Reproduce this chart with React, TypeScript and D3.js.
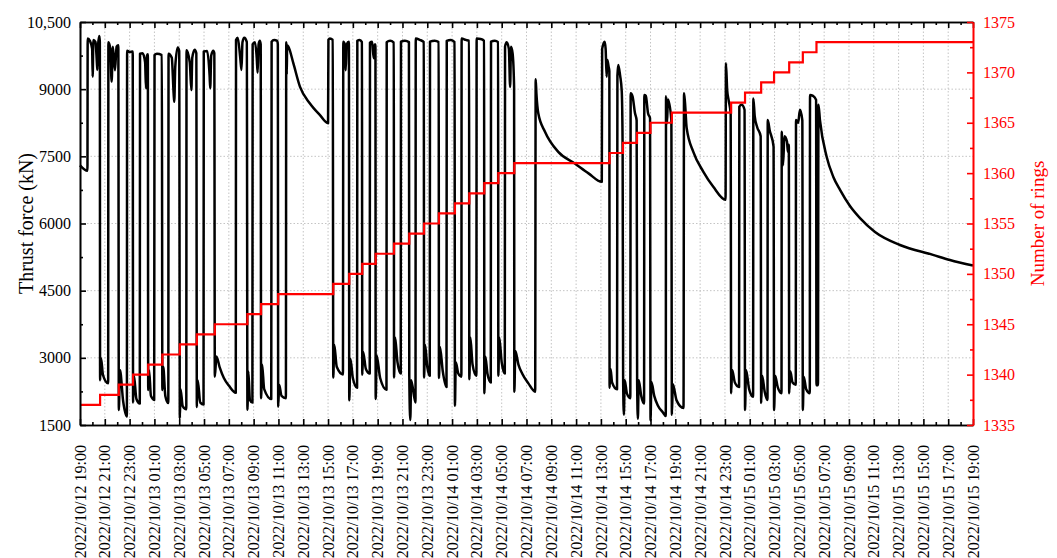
import React, { useEffect, useRef } from 'react';
import * as d3 from 'd3';

// time axis: 2022/10/12 19:00 -> 2022/10/15 19:00
const startTime = new Date(2022, 9, 12, 19, 0);
const endTime = new Date(2022, 9, 15, 19, 0);

// thrust force: [hours after 2022/10/12 19:00, kN]
const thrust: [number, number][] = [
  [0.0, 7300], [0.6, 7180],
  // ring 1337
  [0.62, 10130], [0.8, 10080], [0.98, 9900], [1.02, 9280], [1.08, 10100], [1.25, 10050], [1.36, 9600], [1.4, 9430], [1.46, 10000], [1.56, 10190], [1.6, 10050],
  [1.62, 2500], [1.7, 2990], [1.85, 2620], [2.27, 2430],
  // 1338
  [2.29, 10050], [2.45, 9900], [2.55, 9170], [2.65, 9950], [2.82, 9420], [2.95, 9950], [3.09, 9980],
  [3.13, 1835], [3.22, 2730], [3.48, 2030], [3.78, 1690],
  // 1339
  [3.8, 9860], [4.0, 9830], [4.25, 9840],
  [4.28, 2000], [4.35, 2600], [4.55, 2080], [4.82, 1980],
  // 1340
  [4.84, 9790], [5.05, 9800], [5.25, 9600], [5.32, 9020], [5.4, 9750], [5.47, 9780],
  [5.5, 2280], [5.57, 2730], [5.72, 2150], [5.98, 2060],
  // 1341
  [6.01, 9760], [6.2, 9790], [6.6, 9760],
  [6.64, 2280], [6.71, 2800], [6.88, 2150], [7.12, 1990],
  // 1342
  [7.14, 9790], [7.4, 9700], [7.55, 8900], [7.6, 8720], [7.68, 9500], [7.88, 9930], [8.0, 9850],
  [8.05, 1650], [8.11, 2300], [8.28, 1920], [8.57, 1850],
  // 1343
  [8.59, 9870], [8.85, 9600], [8.98, 8980], [9.05, 9700], [9.25, 9880], [9.38, 9800],
  [9.42, 1900], [9.49, 2500], [9.7, 2000], [9.96, 1960],
  // 1344
  [9.98, 9840], [10.25, 9850], [10.45, 9300], [10.5, 9020], [10.58, 9750], [10.75, 9860], [10.83, 9800],
  [10.87, 2580], [11.0, 3030], [11.25, 2800], [11.6, 2550], [12.0, 2380], [12.56, 2220],
  // 1345
  [12.58, 10100], [12.72, 10150], [12.92, 9700], [13.02, 9430], [13.1, 10050], [13.25, 10150], [13.45, 10050],
  [13.5, 1840], [13.57, 2700], [13.7, 2060], [13.9, 2000],
  // 1346
  [13.92, 10000], [14.1, 10050], [14.25, 9700], [14.32, 9370], [14.4, 10000], [14.5, 10080], [14.57, 10000],
  [14.6, 2100], [14.68, 2850], [14.85, 2300], [15.42, 2080],
  // 1347
  [15.45, 10060], [15.65, 10100], [15.9, 10080], [15.95, 10000],
  [15.98, 1910], [16.06, 2400], [16.25, 2150], [16.6, 2100],
  // stop
  [16.63, 10050], [16.67, 9320], [16.7, 9980], [16.8, 9950], [17.2, 9580], [17.74, 9050], [18.54, 8680], [19.35, 8420], [20.0, 8240],
  // 1348
  [20.03, 10100], [20.15, 10130], [20.38, 10100],
  [20.42, 2560], [20.5, 3290], [20.7, 2800], [21.2, 2630],
  // 1349
  [21.23, 10060], [21.35, 10000], [21.42, 9420], [21.5, 10000], [21.68, 10060],
  [21.71, 2050], [21.8, 2980], [22.0, 2550], [22.34, 2330],
  // 1350
  [22.36, 10080], [22.55, 10100], [22.73, 10050],
  [22.76, 2620], [22.83, 3130], [23.05, 2750], [23.36, 2650],
  // 1351
  [23.38, 10040], [23.55, 10060], [23.68, 9690], [23.75, 10000], [23.82, 10000],
  [23.84, 2080], [23.92, 3050], [24.2, 2550], [24.71, 2290],
  // 1352
  [24.73, 10050], [25.0, 10080], [25.3, 10040],
  [25.32, 2560], [25.4, 3460], [25.6, 2900], [25.86, 2650],
  // 1353
  [25.88, 10060], [26.2, 10080], [26.52, 10050],
  [26.55, 2580], [26.63, 1610], [26.7, 2500], [27.05, 2000],
  // 1354
  [27.07, 10130], [27.4, 10100], [27.72, 10050],
  [27.74, 2560], [27.82, 3290], [28.0, 2800], [28.2, 2600],
  // 1355
  [28.22, 10060], [28.6, 10080], [28.92, 10050],
  [28.94, 2550], [29.02, 3250], [29.25, 2700], [29.55, 2350],
  // 1356
  [29.57, 10080], [29.9, 10100], [30.2, 10050],
  [30.23, 1930], [30.3, 2900], [30.5, 2650], [30.75, 2580],
  // 1357
  [30.77, 10130], [31.1, 10100], [31.37, 10080],
  [31.39, 2520], [31.47, 3460], [31.65, 2850], [31.96, 2600],
  // 1358
  [31.98, 10130], [32.3, 10120], [32.58, 10080],
  [32.6, 2210], [32.68, 3030], [32.85, 2650], [33.12, 2450],
  // 1359
  [33.14, 10060], [33.45, 10080], [33.71, 10050],
  [33.73, 2600], [33.8, 3460], [34.0, 2900], [34.25, 2650],
  // 1360
  [34.27, 9950], [34.4, 10050], [34.58, 9900], [34.68, 9050], [34.75, 9950], [34.88, 9800], [35.0, 9050],
  [35.02, 2240], [35.1, 3150], [35.35, 2850], [35.65, 2650], [36.15, 2430], [36.7, 2245],
  // stop
  [36.74, 9220], [36.8, 8900], [36.95, 8460], [37.49, 8050], [38.56, 7600], [39.9, 7340], [41.0, 7120], [42.07, 6930],
  // 1361
  [42.1, 9900], [42.3, 10060], [42.38, 9900], [42.46, 9280], [42.52, 9650], [42.62, 9500], [42.68, 9400],
  [42.7, 2330], [42.78, 2750], [42.9, 2450], [43.3, 2300],
  // 1362
  [43.33, 9300], [43.4, 9540], [43.55, 9300], [43.68, 8950], [43.75, 7700],
  [43.79, 2580], [43.85, 1730], [43.92, 2500], [44.1, 2200], [44.37, 2100],
  // 1363
  [44.4, 8910], [44.55, 8840], [44.75, 8460], [44.88, 8300],
  [44.92, 2450], [44.98, 1640], [45.05, 2500], [45.25, 2150], [45.48, 1980],
  // 1364
  [45.5, 8870], [45.62, 8850], [45.8, 8460], [45.96, 8350],
  [46.0, 1600], [46.07, 2460], [46.3, 2150], [46.6, 1930], [47.0, 1780], [47.23, 1700],
  // 1365
  [47.25, 8840], [47.33, 8230], [47.4, 8770], [47.68, 8310],
  [47.72, 1730], [47.8, 2410], [48.1, 2050], [48.66, 1880],
  // stop
  [48.7, 8910], [48.78, 8700], [48.91, 8140], [49.45, 7600], [50.25, 7160], [51.06, 6820], [52.05, 6530],
  // 1366
  [52.08, 9580], [52.18, 8980], [52.3, 8750], [52.46, 8460],
  [52.5, 2210], [52.58, 2730], [52.8, 2450], [53.14, 2350],
  // 1367
  [53.16, 8610], [53.35, 8650], [53.58, 8540],
  [53.62, 1835], [53.7, 2730], [53.95, 2300], [54.27, 2130],
  // 1368
  [54.29, 8790], [54.4, 8400], [54.6, 8150], [54.88, 7950],
  [54.92, 1990], [55.0, 2600], [55.2, 2250], [55.43, 2060],
  // 1369
  [55.45, 8310], [55.6, 8090], [55.92, 7720],
  [55.96, 1835], [56.05, 2600], [56.25, 2350], [56.56, 2210],
  // 1370
  [56.58, 8050], [56.68, 7300], [56.8, 7950], [57.0, 7830], [57.08, 7600], [57.15, 7760],
  [57.18, 2210], [57.27, 2700], [57.45, 2450], [57.71, 2400],
  // 1371
  [57.73, 8310], [57.9, 8250], [58.05, 8540], [58.24, 8300],
  [58.28, 1835], [58.35, 2580], [58.55, 2300], [58.84, 2210],
  // 1372
  [58.86, 8870], [59.1, 8850], [59.35, 8760],
  [59.38, 2390], [59.5, 2390],
  // stop
  [59.54, 8650], [59.66, 8310], [60.2, 7490], [60.74, 7040], [61.28, 6750], [62.08, 6390], [62.89, 6120], [64.1, 5810], [66.11, 5520], [68.77, 5300], [70.14, 5185], [72.0, 5060],
];

// number of rings: [hours after 2022/10/12 19:00, ring] (step after)
const rings: [number, number][] = [
  [0, 1337], [1.62, 1338], [3.13, 1339], [4.28, 1340], [5.5, 1341], [6.64, 1342], [8.05, 1343], [9.42, 1344],
  [10.87, 1345], [13.5, 1346], [14.6, 1347], [15.98, 1348], [20.42, 1349], [21.71, 1350], [22.76, 1351],
  [23.84, 1352], [25.32, 1353], [26.55, 1354], [27.74, 1355], [28.94, 1356], [30.23, 1357], [31.39, 1358],
  [32.6, 1359], [33.73, 1360], [35.02, 1361], [42.7, 1362], [43.78, 1363], [44.91, 1364], [46.0, 1365],
  [47.72, 1366], [52.5, 1367], [53.62, 1368], [54.92, 1369], [55.96, 1370], [57.18, 1371], [58.28, 1372],
  [59.38, 1373], [72, 1373],
];

const forceTicks = [1500, 3000, 4500, 6000, 7500, 9000, 10500];
const forceLabels = ['1500', '3000', '4500', '6000', '7500', '9000', '10,500'];
const forceMinor = [2250, 3750, 5250, 6750, 8250, 9750];
const ringTicks = [1335, 1340, 1345, 1350, 1355, 1360, 1365, 1370, 1375];
const ringMinor = [1337.5, 1342.5, 1347.5, 1352.5, 1357.5, 1362.5, 1367.5, 1372.5];
const hourTicks = d3.range(0, 73, 2); // labelled ticks, every 2 h from 19:00
const hourMinor = d3.range(1, 72, 2);

const W = 1057, H = 558;
const margin = { left: 80, right: 84, top: 22, bottom: 133 };
const FONT = "'Liberation Serif', 'Times New Roman', serif";

const toDate = (h: number) => new Date(startTime.getTime() + h * 3600 * 1000);

export default function App() {
  const ref = useRef<SVGSVGElement>(null);

  useEffect(() => {
    const svg = d3.select(ref.current);
    svg.selectAll('*').remove();

    const x0 = margin.left, x1 = W - margin.right;
    const y0 = H - margin.bottom, y1 = margin.top;

    const x = d3.scaleTime().domain([startTime, endTime]).range([x0, x1]);
    const y = d3.scaleLinear().domain([1500, 10500]).range([y0, y1]);
    const y2 = d3.scaleLinear().domain([1335, 1375]).range([y0, y1]);

    const major = hourTicks.map(toDate);
    const minor = hourMinor.map(toDate);

    // grid
    const grid = svg.append('g').attr('stroke', '#c4c4c4').attr('stroke-width', 1).attr('stroke-dasharray', '1.5,2');
    grid.selectAll('line.v').data(major.slice(1, -1)).join('line')
      .attr('x1', d => x(d)).attr('x2', d => x(d)).attr('y1', y0).attr('y2', y1);
    grid.selectAll('line.h').data(forceTicks.slice(1, -1)).join('line')
      .attr('x1', x0).attr('x2', x1).attr('y1', d => y(d)).attr('y2', d => y(d));

    // series
    const thrustLine = d3.line<[number, number]>()
      .curve(d3.curveMonotoneX)
      .x(d => x(toDate(d[0])))
      .y(d => y(d[1]));
    svg.append('path').datum(thrust)
      .attr('fill', 'none').attr('stroke', '#000').attr('stroke-width', 2.5)
      .attr('stroke-linejoin', 'round')
      .attr('d', thrustLine);

    const ringLine = d3.line<[number, number]>()
      .curve(d3.curveStepAfter)
      .x(d => x(toDate(d[0])))
      .y(d => y2(d[1]));
    svg.append('path').datum(rings)
      .attr('fill', 'none').attr('stroke', '#ff0000').attr('stroke-width', 2.2)
      .attr('d', ringLine);

    // axes (ticks point inward)
    const axisStyle = (g: any, color: string) => {
      g.select('.domain').attr('stroke', color).attr('stroke-width', 1.6);
      g.selectAll('.tick line').attr('stroke', color).attr('stroke-width', 1.6);
      g.selectAll('text').remove();
    };

    svg.append('g').attr('transform', `translate(0,${y0})`)
      .call(d3.axisBottom(x).tickValues(minor).tickSize(-3).tickSizeOuter(0).tickFormat(() => ''))
      .call(axisStyle, '#000');
    svg.append('g').attr('transform', `translate(0,${y0})`)
      .call(d3.axisBottom(x).tickValues(major).tickSize(-6).tickSizeOuter(0).tickFormat(() => ''))
      .call(axisStyle, '#000');
    svg.append('g').attr('transform', `translate(0,${y1})`)
      .call(d3.axisTop(x).tickValues(minor).tickSize(-3).tickSizeOuter(0).tickFormat(() => ''))
      .call(axisStyle, '#000');
    svg.append('g').attr('transform', `translate(0,${y1})`)
      .call(d3.axisTop(x).tickValues(major).tickSize(-6).tickSizeOuter(0).tickFormat(() => ''))
      .call(axisStyle, '#000');

    svg.append('g').attr('transform', `translate(${x0},0)`)
      .call(d3.axisLeft(y).tickValues(forceMinor).tickSize(-3).tickSizeOuter(0).tickFormat(() => ''))
      .call(axisStyle, '#000');
    svg.append('g').attr('transform', `translate(${x0},0)`)
      .call(d3.axisLeft(y).tickValues(forceTicks).tickSize(-6).tickSizeOuter(0).tickFormat(() => ''))
      .call(axisStyle, '#000');

    svg.append('g').attr('transform', `translate(${x1},0)`)
      .call(d3.axisRight(y2).tickValues(ringMinor).tickSize(-3).tickSizeOuter(0).tickFormat(() => ''))
      .call(axisStyle, '#ff0000');
    svg.append('g').attr('transform', `translate(${x1},0)`)
      .call(d3.axisRight(y2).tickValues(ringTicks).tickSize(-6).tickSizeOuter(0).tickFormat(() => ''))
      .call(axisStyle, '#ff0000');

    // tick labels
    const fmt = d3.timeFormat('%Y/%m/%d %H:%M');
    svg.append('g').selectAll('text').data(major).join('text')
      .attr('transform', d => `translate(${x(d)},${y0 + 20}) rotate(-90)`)
      .attr('text-anchor', 'end').attr('dy', '0.35em')
      .style('font-family', FONT).style('font-size', '16px')
      .text(d => fmt(d));

    svg.append('g').selectAll('text').data(forceTicks).join('text')
      .attr('x', x0 - 9).attr('y', d => y(d)).attr('dy', '0.35em')
      .attr('text-anchor', 'end')
      .style('font-family', FONT).style('font-size', '16px')
      .text((d, i) => forceLabels[i]);

    svg.append('g').selectAll('text').data(ringTicks).join('text')
      .attr('x', x1 + 10).attr('y', d => y2(d)).attr('dy', '0.35em')
      .attr('fill', '#ff0000')
      .style('font-family', FONT).style('font-size', '16px')
      .text(d => String(d));

    // axis titles
    const midY = (y0 + y1) / 2;
    svg.append('text')
      .attr('transform', `translate(33,${midY}) rotate(-90)`)
      .attr('text-anchor', 'middle')
      .style('font-family', FONT).style('font-size', '20px')
      .text('Thrust force (kN)');
    svg.append('text')
      .attr('transform', `translate(1044,${midY}) rotate(-90)`)
      .attr('text-anchor', 'middle').attr('fill', '#ff0000')
      .style('font-family', FONT).style('font-size', '19px')
      .text('Number of rings');
  }, []);

  return (
    <svg ref={ref} width={W} height={H}
      style={{ position: 'absolute', left: 0, top: 0, background: '#fff' }} />
  );
}
